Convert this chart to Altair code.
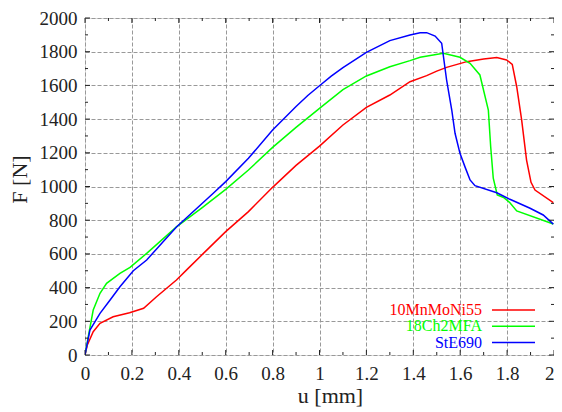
import altair as alt
import pandas as pd

names = ["10MnMoNi55", "18Ch2MFA", "StE690"]
colors = ["#ff0000", "#00ff00", "#0000ff"]

u_red = [0, 0.01, 0.035, 0.064, 0.12, 0.19, 0.25, 0.305, 0.39, 0.44, 0.505, 0.6, 0.697, 0.8, 0.9, 1.0, 1.1, 1.2,
         1.3, 1.386, 1.457, 1.5, 1.542, 1.628, 1.70, 1.756, 1.798, 1.822, 1.841, 1.862, 1.883, 1.902, 1.919, 1.997]
f_red = [0, 60, 138, 188, 227, 251, 277, 346, 445, 514, 603, 732, 851, 995, 1125, 1240, 1365, 1470,
         1543, 1622, 1658, 1685, 1707, 1741, 1757, 1765, 1751, 1725, 1592, 1395, 1157, 1025, 979, 904]

u_green = [0, 0.014, 0.035, 0.064, 0.092, 0.149, 0.192, 0.263, 0.39, 0.5, 0.6, 0.697, 0.8, 0.9, 1.0, 1.1, 1.2,
           1.3, 1.386, 1.429, 1.528, 1.599, 1.642, 1.684, 1.72, 1.73, 1.741, 1.758, 1.785, 1.812, 1.841, 1.997]
f_green = [0, 109, 267, 366, 425, 485, 520, 603, 760, 875, 983, 1098, 1232, 1351, 1464, 1575, 1656,
           1711, 1747, 1767, 1790, 1767, 1731, 1662, 1454, 1236, 1049, 950, 935, 904, 855, 777]

u_blue = [0, 0.021, 0.064, 0.107, 0.149, 0.206, 0.263, 0.39, 0.547, 0.6, 0.697, 0.8, 0.85, 0.9, 0.95, 1.0,
          1.05, 1.1, 1.2, 1.3, 1.386, 1.429, 1.457, 1.493, 1.521, 1.542, 1.564, 1.578, 1.599, 1.62, 1.642,
          1.663, 1.756, 1.812, 1.898, 1.954, 1.997]
f_blue = [0, 148, 247, 326, 405, 500, 564, 760, 960, 1029, 1167, 1335, 1405, 1475, 1540, 1598,
          1655, 1705, 1796, 1866, 1899, 1913, 1913, 1893, 1850, 1632, 1454, 1316, 1197, 1118, 1039,
          1005, 963, 924, 871, 831, 777]

x_major = [0, 0.2, 0.4, 0.6, 0.8, 1.0, 1.2, 1.4, 1.6, 1.8, 2.0]
x_minor = [0.1, 0.3, 0.5, 0.7, 0.9, 1.1, 1.3, 1.5, 1.7, 1.9]
y_major = [0, 200, 400, 600, 800, 1000, 1200, 1400, 1600, 1800, 2000]
y_minor = [100, 300, 500, 700, 900, 1100, 1300, 1500, 1700, 1900]

W, H = 469, 337
FONT = "Liberation Serif"
INK = "#222222"

rows = []
for nm, us, fs in zip(names, [u_red, u_green, u_blue], [f_red, f_green, f_blue]):
    for i, (a, b) in enumerate(zip(us, fs)):
        rows.append({"series": nm, "u": a, "F": b, "i": i})
df = pd.DataFrame(rows)

xs = alt.Scale(domain=[0, 2], nice=False, zero=False)
ys = alt.Scale(domain=[0, 2000], nice=False, zero=False)
cs = alt.Scale(domain=names, range=colors)

xaxis = alt.Axis(
    title="u [mm]", values=x_major, format="~g", grid=True, gridColor="#999999", gridDash=[4, 2],
    ticks=False, tickSize=0, domain=False, labelPadding=9, labelFontSize=19,
    labelAlign={"expr": "datum.value >= 2 ? 'right' : 'center'"},
    labelFont=FONT, labelColor=INK, titleFont=FONT, titleFontSize=22, titleFontWeight="normal",
    titleColor=INK, titleX=245, titleY=47, titleBaseline="alphabetic", labelFlush=False)
yaxis = alt.Axis(
    title="F [N]", values=y_major, format="d", grid=True, gridColor="#999999", gridDash=[4, 2],
    ticks=False, tickSize=0, domain=False, labelPadding=8, labelFontSize=19,
    labelFont=FONT, labelColor=INK, titleFont=FONT, titleFontSize=22, titleFontWeight="normal",
    titleColor=INK, titleX=-66, titleY=161, titleBaseline="middle", titleAngle=-90,
    labelFlush=False)

lines = alt.Chart(df).mark_line(strokeWidth=1.5, clip=True).encode(
    x=alt.X("u:Q", scale=xs, axis=xaxis),
    y=alt.Y("F:Q", scale=ys, axis=yaxis),
    color=alt.Color("series:N", scale=cs, legend=None),
    detail="series:N",
    order="i:Q",
)

layers = [lines]


def xticks(vals, length):
    d = pd.DataFrame({"u": vals})
    base = alt.Chart(d).mark_rule(color=INK, strokeWidth=1)
    b = base.encode(x=alt.X("u:Q", scale=xs, axis=xaxis), y=alt.value(H), y2=alt.value(H - length))
    t = base.encode(x=alt.X("u:Q", scale=xs, axis=xaxis), y=alt.value(0), y2=alt.value(length))
    return [b, t]


def yticks(vals, length):
    d = pd.DataFrame({"F": vals})
    base = alt.Chart(d).mark_rule(color=INK, strokeWidth=1)
    l = base.encode(y=alt.Y("F:Q", scale=ys, axis=yaxis), x=alt.value(0), x2=alt.value(length))
    r = base.encode(y=alt.Y("F:Q", scale=ys, axis=yaxis), x=alt.value(W), x2=alt.value(W - length))
    return [l, r]


layers += xticks(x_major, 5) + xticks(x_minor, 3) + yticks(y_major, 5) + yticks(y_minor, 3)

for k, nm in enumerate(names):
    d = pd.DataFrame({"series": [nm]})
    yy = 292 + k * 16.3
    txt = alt.Chart(d).mark_text(align="right", baseline="middle", font=FONT, fontSize=16).encode(
        x=alt.value(397), y=alt.value(yy), text="series:N",
        color=alt.Color("series:N", scale=cs, legend=None))
    rl = alt.Chart(d).mark_rule(strokeWidth=1.5).encode(
        x=alt.value(407), x2=alt.value(450), y=alt.value(yy),
        color=alt.Color("series:N", scale=cs, legend=None))
    layers += [txt, rl]

chart = alt.layer(*layers).properties(
    width=W, height=H,
    autosize=alt.AutoSizeParams(type="none"),
    padding={"left": 77, "top": 10, "right": 0, "bottom": 54},
).configure_view(stroke=INK, strokeWidth=1.5).configure_axis(
    labelFont=FONT, titleFont=FONT
).configure(background="white", font=FONT)

chart.save("out.html", embed_options={"renderer": "svg", "actions": False})
